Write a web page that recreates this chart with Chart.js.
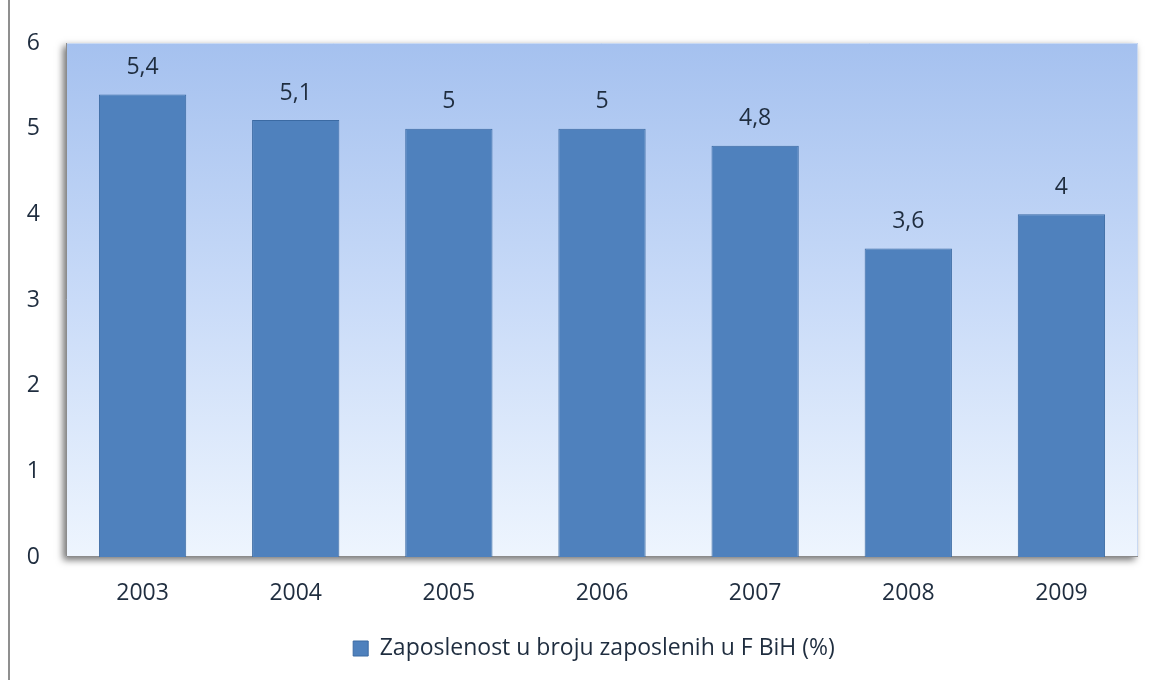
<!DOCTYPE html>
<html>
<head>
<meta charset="utf-8">
<script src="https://cdn.jsdelivr.net/npm/chart.js@4.4.0/dist/chart.umd.min.js"></script>
<style>
  html, body { margin: 0; padding: 0; background: #fff; }
  #wrap { position: relative; width: 1155px; height: 680px; }
  #edge { position: absolute; left: 8px; top: 0; width: 2px; height: 680px; background: #8f8f8f; }
</style>
</head>
<body>
<div id="wrap">
  <div id="edge"></div>
  <canvas id="chart" width="1155" height="680"></canvas>
</div>
<script>
const years = ["2003", "2004", "2005", "2006", "2007", "2008", "2009"];
const employment = [5.4, 5.1, 5, 5, 4.8, 3.6, 4];
const seriesName = "Zaposlenost u broju zaposlenih u F BiH (%)";
const yMin = 0, yMax = 6, yStep = 1;

const textColor = "#1f2d3f";
const font = "'Open Sans', sans-serif";

// gradient wall behind the bars, with a soft shadow on the left and bottom
const wallPlugin = {
  id: "wall",
  afterLayout(chart) {
    // nudge the legend a little to the left, as in the original
    if (chart.legend) {
      chart.legend.left -= 8;
      chart.legend.right -= 8;
    }
  },
  beforeDraw(chart) {
    const { ctx, chartArea: a } = chart;
    ctx.save();
    ctx.shadowColor = "rgba(0,0,0,0.55)";
    ctx.shadowBlur = 7;
    ctx.shadowOffsetX = -3;
    ctx.shadowOffsetY = 3;
    const g = ctx.createLinearGradient(0, a.top, 0, a.bottom);
    g.addColorStop(0, "#a5c1ef");
    g.addColorStop(0.5, "#c9dbf8");
    g.addColorStop(1, "#eef5fe");
    ctx.fillStyle = g;
    ctx.fillRect(a.left, a.top, a.right - a.left, a.bottom - a.top);
    ctx.restore();

    ctx.save();
    ctx.strokeStyle = "#c9d9f2";
    ctx.lineWidth = 1;
    ctx.beginPath();
    ctx.moveTo(a.left, a.top + 0.5);
    ctx.lineTo(a.right - 0.5, a.top + 0.5);
    ctx.lineTo(a.right - 0.5, a.bottom);
    ctx.stroke();
    ctx.strokeStyle = "#8c8c8c";
    ctx.beginPath();
    ctx.moveTo(a.left + 0.5, a.top);
    ctx.lineTo(a.left + 0.5, a.bottom - 0.5);
    ctx.lineTo(a.right, a.bottom - 0.5);
    ctx.stroke();
    ctx.restore();
  }
};

const valueLabels = {
  id: "valueLabels",
  afterDatasetsDraw(chart) {
    const { ctx } = chart;
    ctx.save();
    ctx.fillStyle = textColor;
    ctx.font = "23px " + font;
    ctx.textAlign = "center";
    ctx.textBaseline = "middle";
    chart.getDatasetMeta(0).data.forEach((bar, i) => {
      const txt = String(employment[i]).replace(".", ",");
      ctx.fillText(txt, bar.x, bar.y - 27);
    });
    ctx.restore();
  }
};

new Chart(document.getElementById("chart"), {
  type: "bar",
  data: {
    labels: years,
    datasets: [{
      label: seriesName,
      data: employment,
      backgroundColor: "#4f81bd",
      borderColor: "#3b6aa3",
      borderWidth: 1,
      categoryPercentage: 1,
      barPercentage: 0.57
    }]
  },
  options: {
    responsive: false,
    animation: false,
    layout: { padding: { top: 43, right: 17, left: 0, bottom: 10 } },
    scales: {
      x: {
        grid: { display: false, drawTicks: false },
        border: { display: false },
        afterFit(scale) { scale.height = 62; },
        ticks: { color: textColor, font: { family: font, size: 23 }, padding: 23 }
      },
      y: {
        min: yMin,
        max: yMax,
        grid: { display: false, drawTicks: false },
        border: { display: false },
        afterFit(scale) { scale.width = 66; },
        ticks: { stepSize: yStep, color: textColor, font: { family: font, size: 23 }, padding: 26 }
      }
    },
    plugins: {
      legend: {
        position: "bottom",
        fullSize: false,
        labels: {
          color: textColor,
          font: { family: font, size: 23 },
          boxWidth: 15,
          boxHeight: 15,
          padding: 18
        }
      },
      tooltip: { enabled: false }
    }
  },
  plugins: [wallPlugin, valueLabels]
});
</script>
</body>
</html>
